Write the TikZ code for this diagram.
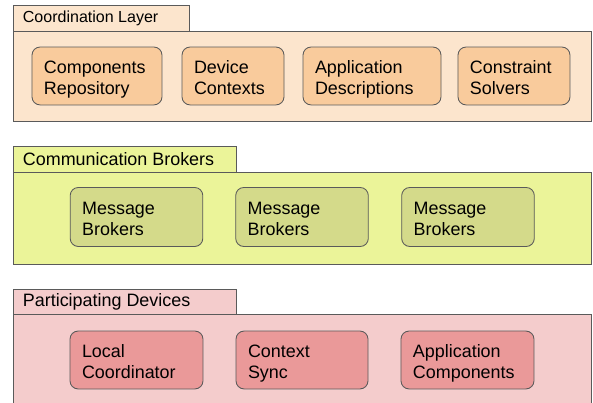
\documentclass[tikz,border=0pt]{standalone}
\usepackage{fontspec}
\setmainfont{Liberation Sans}
\usepackage{xcolor}
\usepackage{tikz}
\usetikzlibrary{positioning}

\definecolor{coordbg}{HTML}{FCE5CD}
\definecolor{coordbox}{HTML}{F9CB9C}
\definecolor{brokerbg}{HTML}{EBF499}
\definecolor{brokerbox}{HTML}{D4DA8A}
\definecolor{devicebg}{HTML}{F4CCCC}
\definecolor{devicebox}{HTML}{EA9999}
\definecolor{edge}{HTML}{5A5A5A}

\begin{document}
\begin{tikzpicture}[
    layerbox/.style={draw=edge, line width=0.9pt},
    tabtext/.style={anchor=west, inner sep=0pt, font=\fontsize{17}{20}\selectfont},
    part/.style={draw=edge, line width=0.8pt, rounded corners=0.27cm,
        minimum height=1.93cm, inner xsep=0.4cm, align=left,
        text width=#1, font=\fontsize{17}{20}\selectfont,
        execute at begin node={\rule{0pt}{19pt}},
        execute at end node={\rule[-4pt]{0pt}{4pt}}}
]
    \useasboundingbox (0,0) rectangle (19.767,13.433);
    \clip (0,0) rectangle (19.767,13.433);

    % Coordination layer
    \draw[layerbox, fill=coordbg] (0.433,13.267) rectangle (6.3,12.4);
    \draw[layerbox, fill=coordbg] (0.433,12.4) rectangle (19.7,9.4);
    \node[tabtext, font=\fontsize{15.2}{18}\selectfont] (coordtitle) at (0.757,12.833) {Coordination Layer};

    \node[part=3.533cm, fill=coordbox] (repo) at (3.233,10.9) {Components\\Repository};
    \node[part=2.6cm, fill=coordbox] (contexts) at (7.767,10.9) {Device\\Contexts};
    \node[part=3.8cm, fill=coordbox] (appdesc) at (12.4,10.9) {Application\\Descriptions};
    \node[part=2.933cm, fill=coordbox] (solvers) at (17.133,10.9) {Constraint\\Solvers};

    % Communication brokers
    \draw[layerbox, fill=brokerbg] (0.433,8.567) rectangle (7.867,7.7);
    \draw[layerbox, fill=brokerbg] (0.433,7.7) rectangle (19.7,4.633);
    \node[tabtext] (brokertitle) at (0.757,8.133) {Communication Brokers};

    \foreach \x/\name in {4.55/mbA, 10.067/mbB, 15.6/mbC} {
        \node[part=3.62cm, fill=brokerbox, minimum height=1.967cm] (\name) at (\x,6.2) {Message\\Brokers};
    }

    % Participating devices (runs off the bottom)
    \draw[layerbox, fill=devicebg] (0.433,3.8) rectangle (7.867,2.967);
    \draw[layerbox, fill=devicebg] (0.433,2.967) rectangle (19.7,-1);
    \node[tabtext] (devicetitle) at (0.757,3.383) {Participating Devices};

    \node[part=3.633cm, fill=devicebox] (localco) at (4.55,1.433) {Local\\Coordinator};
    \node[part=3.6cm, fill=devicebox] (sync) at (10.067,1.433) {Context\\Sync};
    \node[part=3.633cm, fill=devicebox] (appcomp) at (15.583,1.433) {Application\\Components};
\end{tikzpicture}
\end{document}
